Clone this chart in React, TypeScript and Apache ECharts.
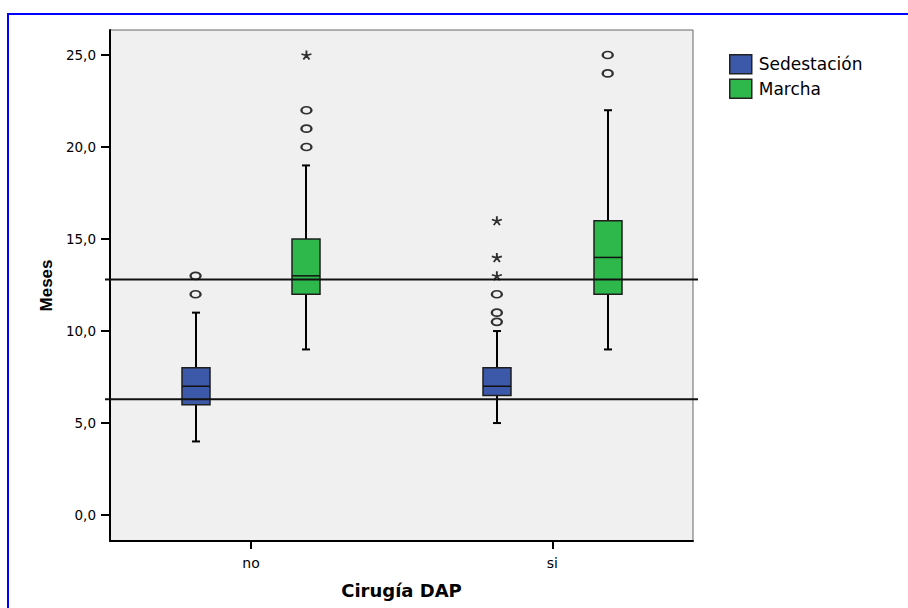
import React, { useEffect, useRef } from 'react';
import * as echarts from 'echarts';

// ---- data ----
const categories = ['no', 'si'];
const seriesNames = ['Sedestación', 'Marcha'];
// [min, Q1, median, Q3, max] per category
const sedestacionBox = [
  [4, 6, 7, 8, 11],
  [5, 6.5, 7, 8, 10],
];
const marchaBox = [
  [9, 12, 13, 15, 19],
  [9, 12, 14, 16, 22],
];
// outliers (circles) and extremes (asterisks) per category
const sedestacionOutliers = [[12, 13], [10.5, 11, 12]];
const sedestacionExtremes = [[], [13, 14, 16]];
const marchaOutliers = [[20, 21, 22], [24, 25]];
const marchaExtremes = [[25], []];
const referenceLines = [12.8, 6.3];
const yTicks = [0, 5, 10, 15, 20, 25];

// ---- styling / layout constants ----
const BLUE = '#3c58a9';
const GREEN = '#2eb84b';
const GROUP_OFFSET = 0.184;
const RING = 'path://M0,1 A1,1 0 1 1 2,1 A1,1 0 1 1 0,1 Z';
const STAR =
  'path://M5,5 L5,0 M5,5 L9.76,3.45 M5,5 L0.24,3.45 M5,5 L2.06,9.05 M5,5 L7.94,9.05';

const boxData = (boxes: number[][], off: number) =>
  boxes.map((b, i) => [i + off, ...b]);
const pointData = (lists: number[][], off: number) =>
  lists.flatMap((l, i) => l.map((v) => [i + off, v]));

function makeRender(fill: string) {
  return (_params: any, api: any) => {
    const x = api.value(0);
    const pMin = api.coord([x, api.value(1)]);
    const pQ1 = api.coord([x, api.value(2)]);
    const pMed = api.coord([x, api.value(3)]);
    const pQ3 = api.coord([x, api.value(4)]);
    const pMax = api.coord([x, api.value(5)]);
    const cx = Math.round(pMin[0]);
    const hw = 14;
    const cap = 4;
    const ws = { stroke: '#000', lineWidth: 2 };
    return {
      type: 'group',
      children: [
        { type: 'line', shape: { x1: cx, y1: pQ1[1], x2: cx, y2: pMin[1] }, style: ws },
        { type: 'line', shape: { x1: cx, y1: pQ3[1], x2: cx, y2: pMax[1] }, style: ws },
        { type: 'line', shape: { x1: cx - cap, y1: pMin[1], x2: cx + cap, y2: pMin[1] }, style: ws },
        { type: 'line', shape: { x1: cx - cap, y1: pMax[1], x2: cx + cap, y2: pMax[1] }, style: ws },
        {
          type: 'rect',
          shape: { x: cx - hw, y: pQ3[1], width: hw * 2, height: pQ1[1] - pQ3[1] },
          style: { fill, stroke: '#1e1e1e', lineWidth: 1.5 },
        },
        {
          type: 'line',
          shape: { x1: cx - hw, y1: pMed[1], x2: cx + hw, y2: pMed[1] },
          style: { stroke: '#111', lineWidth: 1.5 },
        },
      ],
    };
  };
}

const renderRefLine = (params: any, api: any) => {
  const cs = params.coordSys;
  const y = api.coord([0, api.value(0)])[1];
  return {
    type: 'line',
    shape: { x1: cs.x - 5, y1: y, x2: cs.x + cs.width + 5, y2: y },
    style: { stroke: '#111', lineWidth: 2 },
  };
};

const ringSeries = (name: string, data: number[][]) => ({
  name,
  type: 'scatter',
  data,
  symbol: RING,
  symbolSize: [10, 7],
  itemStyle: { color: 'transparent', borderColor: '#000', borderWidth: 2 },
  z: 5,
});
const starSeries = (name: string, data: number[][]) => ({
  name,
  type: 'scatter',
  data,
  symbol: STAR,
  symbolSize: [10, 9],
  itemStyle: { color: 'none', borderColor: '#000', borderWidth: 1.8 },
  z: 5,
});

export default function App() {
  const ref = useRef<HTMLDivElement>(null);
  useEffect(() => {
    if (!ref.current) return;
    const chart = echarts.init(ref.current, null, { renderer: 'svg' });
    const option: any = {
      animation: false,
      backgroundColor: '#fff',
      graphic: [
        {
          type: 'rect',
          shape: { x: 8, y: 14, width: 1000, height: 1000 },
          style: { fill: 'none', stroke: '#0000ff', lineWidth: 2 },
          z: 0,
        },
      ],
      grid: {
        left: 110,
        right: 215,
        top: 30,
        bottom: 67,
        show: true,
        backgroundColor: '#f0f0f0',
        borderColor: '#666',
        borderWidth: 1,
      },
      legend: {
        orient: 'vertical',
        left: 729,
        top: 54,
        padding: 0,
        itemWidth: 22,
        itemHeight: 19,
        itemGap: 4,
        selectedMode: false,
        textStyle: { fontSize: 17, fontFamily: 'DejaVu Sans', color: '#000', padding: [0, 0, 0, 2] },
        data: [
          { name: seriesNames[0], icon: 'rect', itemStyle: { color: BLUE, borderColor: '#222', borderWidth: 1.5 } },
          { name: seriesNames[1], icon: 'rect', itemStyle: { color: GREEN, borderColor: '#222', borderWidth: 1.5 } },
        ],
      },
      xAxis: {
        type: 'value',
        min: -0.468,
        max: 1.467,
        name: 'Cirugía DAP',
        nameLocation: 'middle',
        nameGap: 40,
        nameTextStyle: { fontSize: 18, fontWeight: 'bold', fontFamily: 'DejaVu Sans', color: '#000' },
        axisLine: { onZero: false, lineStyle: { color: '#000', width: 2 } },
        axisTick: { show: true, length: 8, lineStyle: { color: '#000', width: 2 }, customValues: [0, 1] },
        axisLabel: {
          customValues: [0, 1],
          margin: 15,
          fontSize: 14,
          fontFamily: 'DejaVu Sans',
          color: '#000',
          formatter: (v: number) => categories[Math.round(v)] ?? '',
        },
        splitLine: { show: false },
      },
      yAxis: {
        type: 'value',
        min: -1.41,
        max: 26.36,
        name: 'Meses',
        nameLocation: 'middle',
        nameGap: 55,
        nameTextStyle: { fontSize: 17, fontWeight: 'bold', fontFamily: 'Liberation Sans', color: '#000' },
        axisLine: { show: true, onZero: false, lineStyle: { color: '#000', width: 2 } },
        axisTick: { show: true, length: 9, lineStyle: { color: '#000', width: 2 }, customValues: yTicks },
        axisLabel: {
          customValues: yTicks,
          margin: 14,
          fontSize: 13.5,
          fontFamily: 'DejaVu Sans',
          color: '#000',
          formatter: (v: number) => v.toFixed(1).replace('.', ','),
        },
        splitLine: { show: false },
      },
      series: [
        {
          name: seriesNames[0],
          type: 'custom',
          renderItem: makeRender(BLUE),
          encode: { x: 0, y: [1, 2, 3, 4, 5] },
          itemStyle: { color: BLUE },
          data: boxData(sedestacionBox, -GROUP_OFFSET),
          z: 3,
        },
        {
          name: seriesNames[1],
          type: 'custom',
          renderItem: makeRender(GREEN),
          encode: { x: 0, y: [1, 2, 3, 4, 5] },
          itemStyle: { color: GREEN },
          data: boxData(marchaBox, GROUP_OFFSET),
          z: 3,
        },
        ringSeries('Sedestación atípicos', pointData(sedestacionOutliers, -GROUP_OFFSET)),
        starSeries('Sedestación extremos', pointData(sedestacionExtremes, -GROUP_OFFSET)),
        ringSeries('Marcha atípicos', pointData(marchaOutliers, GROUP_OFFSET)),
        starSeries('Marcha extremos', pointData(marchaExtremes, GROUP_OFFSET)),
        {
          name: 'referencias',
          type: 'custom',
          clip: false,
          renderItem: renderRefLine,
          encode: { y: 0 },
          data: referenceLines.map((v) => [v]),
          z: 6,
        },
      ],
    };
    chart.setOption(option);
    return () => chart.dispose();
  }, []);
  return (
    <div
      ref={ref}
      style={{ position: 'fixed', left: 0, top: 0, width: 908, height: 608, background: '#fff' }}
    />
  );
}
